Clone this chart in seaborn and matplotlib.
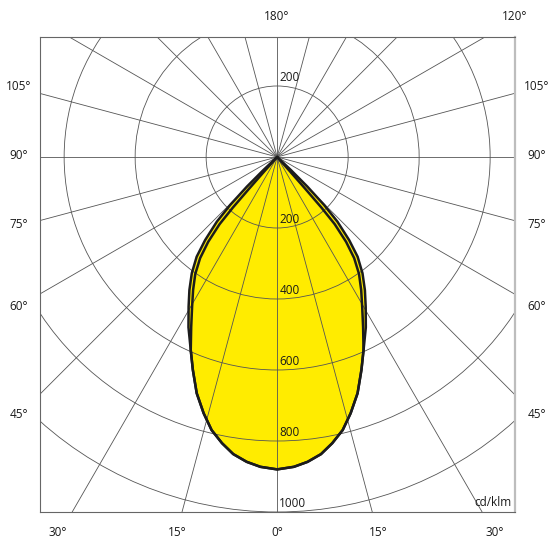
import numpy as np
import matplotlib
matplotlib.use('Agg')
import matplotlib.pyplot as plt
from matplotlib.patches import Circle
import seaborn as sns

outer_gamma = [0, 3.1, 5.7, 8.4, 10.9, 13.5, 16.0, 18.8, 21.6, 24.1, 27.5, 30.6, 33.4,
               36.3, 38.9, 40.9, 43.0, 44.4, 45.6, 46.5, 47.2]
outer_cd = [880, 874, 863, 846, 821, 791, 751, 703, 645, 596, 541, 490, 449,
            406, 361, 310, 249, 189, 119, 53, 0]
inner_gamma = [0, 3.1, 5.7, 8.4, 10.9, 13.5, 16.0, 18.8, 21.6, 24.1, 26.8, 29.6, 32.3,
               35.0, 37.3, 39.1, 40.6, 41.2, 41.5, 41.8, 42.0]
inner_cd = [880, 874, 863, 846, 821, 791, 751, 703, 645, 596, 537, 485, 443,
            402, 358, 308, 249, 190, 120, 53, 0]

ring_values = [200, 400, 600, 800, 1000]
ring_labels = ['200', '400', '600', '800', '1000']
spoke_step = 15

left_labels = ['105°', '90°', '75°', '60°', '45°']
left_label_y = [87, 156, 225, 306, 415]
bottom_labels = ['30°', '15°', '0°', '15°', '30°']
bottom_label_x = [58, 177, 277, 378, 495]

sns.set_style('white')
plt.rcParams['font.family'] = ['Open Sans', 'DejaVu Sans']
FS = 8.5

W, H = 556, 552
fig = plt.figure(figsize=(W / 100, H / 100), dpi=100)
ax = fig.add_axes([40 / W, 40 / H, 475 / W, 475 / H])
ax.set_xlim(-668, 670)
ax.set_ylim(-1000, 338)


def closed_curve(gamma, values):
    g = np.radians(np.array(gamma))
    v = np.array(values, dtype=float)
    xr, yr = v * np.sin(g), -v * np.cos(g)
    # mirror to the left half
    x = np.concatenate([-xr[::-1], xr[1:]])
    y = np.concatenate([yr[::-1], yr[1:]])
    return x, y


xo, yo = closed_curve(outer_gamma, outer_cd)
xi, yi = closed_curve(inner_gamma, inner_cd)

# yellow fill under the grid
ax.fill(xo, yo, color='#ffec00', zorder=1, lw=0)

# polar grid: spokes every 15 degrees and rings
grid_col = '#555555'
for a in range(0, 360, spoke_step):
    r = np.radians(a)
    ax.plot([0, 2000 * np.sin(r)], [0, -2000 * np.cos(r)], color=grid_col, lw=0.6, zorder=2)
for rv in ring_values:
    ax.add_patch(Circle((0, 0), rv, fill=False, ec=grid_col, lw=0.6, zorder=2))

# outlines of both planes
sns.lineplot(x=xo, y=yo, sort=False, estimator=None, color='#1c1c1c', lw=1.8, ax=ax, zorder=3)
sns.lineplot(x=xi, y=yi, sort=False, estimator=None, color='#1c1c1c', lw=1.8, ax=ax, zorder=3)

# ring labels
ax.text(6, 206, '200', fontsize=FS, ha='left', va='bottom', color='#1a1a1a', zorder=4)
for rv, lab in zip(ring_values, ring_labels):
    ax.text(6, -rv + 6, lab, fontsize=FS, ha='left', va='bottom', color='#1a1a1a', zorder=4)

ax.set_xticks([])
ax.set_yticks([])
for s in ['left', 'top', 'bottom']:
    ax.spines[s].set_color('#666666')
    ax.spines[s].set_linewidth(0.8)
ax.spines['right'].set_color('#bdbdbd')
ax.spines['right'].set_linewidth(1.6)


# angle labels around the box
def ftext(px, py, s, **kw):
    fig.text(px / W, 1 - py / H, s, fontsize=FS, color='#1a1a1a', va='center', **kw)


ftext(277, 16, '180°', ha='center')
ftext(515, 16, '120°', ha='center')
for lab, py in zip(left_labels, left_label_y):
    ftext(19, py, lab, ha='center')
    ftext(537, py, lab, ha='center')
for lab, px in zip(bottom_labels, bottom_label_x):
    ftext(px, 533, lab, ha='center')
ftext(512, 502, 'cd/klm', ha='right')

fig.savefig('out.png', dpi=100)
